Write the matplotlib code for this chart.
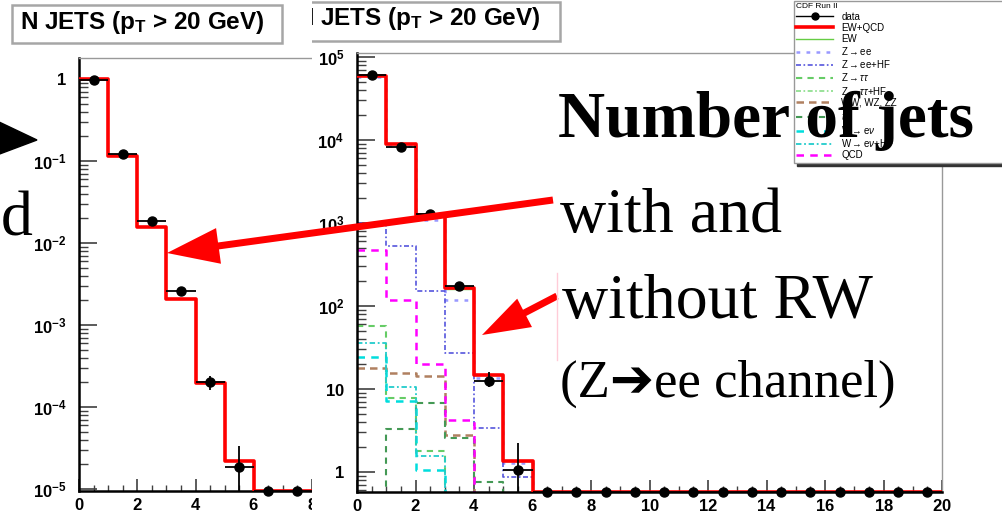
import numpy as np
import matplotlib
matplotlib.use("Agg")
import matplotlib.pyplot as plt
from matplotlib.lines import Line2D
from matplotlib.patches import Rectangle, Polygon, FancyArrow
from matplotlib.ticker import MultipleLocator, LogLocator, FuncFormatter, NullFormatter

plt.rcParams['font.family'] = ['Liberation Sans', 'DejaVu Sans']
plt.rcParams['mathtext.fontset'] = 'custom'
plt.rcParams['mathtext.rm'] = 'Liberation Sans'
plt.rcParams['mathtext.it'] = 'Liberation Sans:italic'
plt.rcParams['mathtext.bf'] = 'Liberation Sans:bold'

W, H = 1002, 518

# ---- left plot: N jets, normalised ----
left_edges = np.arange(0, 21)
left_mc = [1.0, 0.115, 0.0157, 0.00207, 0.000196, 2.2e-5]
left_data = [0.97, 0.122, 0.0185, 0.0026, 0.0002, 1.85e-5, 0, 0]
left_err_lo = [0, 0, 0, 0, 0.00004, 1.8e-5, 0, 0]
left_err_hi = [0, 0, 0, 0, 0.00004, 1.5e-5, 0, 0]
left_ylim = (9.45e-6, 1.8)

# ---- right plot: N jets, events ----
right_edges = np.arange(0, 21)
right_total = [5.9e4, 9.0e3, 1250, 165, 14.9, 1.37]
right_data = [6.0e4, 8.3e3, 1300, 175, 12.5, 1.05] + [0] * 14
right_err_lo = [0, 0, 0, 0, 1.9, 1.04] + [0] * 14
right_err_hi = [0, 0, 0, 0, 3.5, 1.2] + [0] * 14
right_ylim = (0.574, 1.12e5)

ew = [5.85e4, 8.9e3, 1230, 160, 14.8, 1.37]
z_ee = [5.75e4, 8.6e3, 1100, 118, 13.7, 1.3]
z_ee_hf = [1000, 530, 150, 27, 3.4, 0.88]
z_tautau = [57, 7.9, 1.8]
z_tautau_hf = [0.45, 0.12, 0.03]
diboson = [18, 15.8, 14.5, 2.8]
ttbar = [0.3, 3.3, 6.8, 2.6, 0.75]
w_enu = [24, 7.1, 1.05]
w_enu_hf = [36, 10.5, 1.56]
qcd = [470, 118, 20, 4.2]

legend_title = 'CDF Run II'
title = r'N JETS (p$_{\mathbf{T}}$ > 20 GeV)'


def px_axes(fig, l, t, r, b, **kw):
    return fig.add_axes([l / W, 1 - b / H, (r - l) / W, (b - t) / H], **kw)


def draw_steps(ax, edges, vals, floor, **kw):
    v = np.zeros(len(edges) - 1)
    v[:len(vals)] = vals
    v = np.where(v > 0, v, floor)
    return ax.step(edges, np.append(v, v[-1]), where='post', **kw)


def log_label(v, pos):
    e = int(round(np.log10(v)))
    if e == 0:
        return r'$\mathbf{1}$'
    if e == 1:
        return r'$\mathbf{10}$'
    return r'$\mathbf{10^{%d}}$' % e


def root_frame(ax, ylim):
    ax.set_yscale('log')
    ax.set_xlim(0, 20)
    ax.set_ylim(*ylim)
    for s in ['top', 'right']:
        ax.spines[s].set_color('0.6')
        ax.spines[s].set_linewidth(1.0)
    for s in ['left', 'bottom']:
        ax.spines[s].set_color('black')
        ax.spines[s].set_linewidth(1.8)
    ax.xaxis.set_major_locator(MultipleLocator(2))
    ax.xaxis.set_minor_locator(MultipleLocator(0.5))
    ax.xaxis.set_major_formatter(FuncFormatter(lambda v, p: r'$\mathbf{%d}$' % round(v)))
    ax.yaxis.set_major_locator(LogLocator(base=10, numticks=20))
    ax.yaxis.set_minor_locator(LogLocator(base=10, subs=np.arange(2, 10), numticks=20))
    ax.yaxis.set_major_formatter(FuncFormatter(log_label))
    ax.yaxis.set_minor_formatter(NullFormatter())
    ax.tick_params(which='both', direction='in', top=False, right=False,
                   color='0.25', labelsize=12)
    ax.tick_params(axis='y', which='major', length=13, width=1.2, pad=9)
    ax.tick_params(axis='y', which='minor', length=6.5, width=1.0)
    ax.tick_params(axis='x', which='major', length=9, width=1.2, pad=4)
    ax.tick_params(axis='x', which='minor', length=4.5, width=1.0)


def draw_data(ax, edges, vals, lo, hi, floor):
    n = len(vals)
    x = (edges[:n] + edges[1:n + 1]) / 2
    y = np.where(np.array(vals) > 0, vals, floor)
    ax.errorbar(x, y, xerr=0.5, yerr=[lo, hi], fmt='none', ecolor='black',
                elinewidth=1.3, capsize=0, zorder=4)
    ax.plot(x, y, 'o', color='black', ms=6.5, clip_on=False, zorder=5)


fig = plt.figure(figsize=(W / 100, H / 100), dpi=100)

# left plot (partly hidden under the right picture)
axl = px_axes(fig, 79, 58, 79 + 20 * 29.125, 491, zorder=1)
root_frame(axl, left_ylim)
draw_steps(axl, left_edges, left_mc, left_ylim[0], color='red', lw=2.6, zorder=3)
draw_data(axl, left_edges, left_data, left_err_lo, left_err_hi, left_ylim[0])

# white panel of the second picture
panel = px_axes(fig, 312, 0, 1002, 518, zorder=2)
panel.set_xlim(312, 1002)
panel.set_ylim(518, 0)
panel.set_xticks([])
panel.set_yticks([])
for s in panel.spines.values():
    s.set_visible(False)
panel.add_patch(Rectangle((288, 2), 272, 39, facecolor='white', edgecolor='0.65', lw=1.8))
panel.text(296, 25, title, fontsize=17.5, fontweight='bold', va='baseline', clip_on=True)

# right plot
axr = px_axes(fig, 357, 53, 942, 492, zorder=3)
root_frame(axr, right_ylim)
off = 1e-3
draw_steps(axr, right_edges, ew, off, color='#66cc44', lw=1.0, zorder=2, label='EW')
draw_steps(axr, right_edges, z_ee, off, color='#9999ff', lw=1.8, ls=(0, (1.5, 2.5)), zorder=2, label=r'Z$\rightarrow$ee')
draw_steps(axr, right_edges, z_ee_hf, off, color='#5555dd', lw=1.2, ls=(0, (3, 1.5, 1, 1.5)), zorder=2, label=r'Z$\rightarrow$ee+HF')
draw_steps(axr, right_edges, z_tautau, off, color='#66cc66', lw=1.5, ls=(0, (3, 2.5)), zorder=2, label=r'Z$\rightarrow\tau\tau$')
draw_steps(axr, right_edges, z_tautau_hf, off, color='#88dd88', lw=1.2, ls=(0, (3, 1.5, 1, 1.5)), zorder=2, label=r'Z$\rightarrow\tau\tau$+HF')
draw_steps(axr, right_edges, diboson, off, color='#b08060', lw=1.8, ls=(0, (3, 2)), zorder=2, label='WW, WZ, ZZ')
draw_steps(axr, right_edges, ttbar, off, color='#449955', lw=1.5, ls=(0, (3, 2.5)), zorder=2, label=r'$t\bar{t}$')
draw_steps(axr, right_edges, w_enu, off, color='#00dddd', lw=1.8, ls=(0, (3, 2.5)), zorder=2, label=r'W$\rightarrow$e$\nu$')
draw_steps(axr, right_edges, w_enu_hf, off, color='#22cccc', lw=1.3, ls=(0, (3, 1.5, 1, 1.5)), zorder=2, label=r'W$\rightarrow$e$\nu$+HF')
draw_steps(axr, right_edges, qcd, off, color='#ff00ff', lw=1.8, ls=(0, (3, 2.5)), zorder=2, label='QCD')
draw_steps(axr, right_edges, right_total, right_ylim[0], color='red', lw=2.6, zorder=3, label='EW+QCD')
draw_data(axr, right_edges, right_data, right_err_lo, right_err_hi, right_ylim[0])

handles, labels = axr.get_legend_handles_labels()
order = ['EW+QCD', 'EW', r'Z$\rightarrow$ee', r'Z$\rightarrow$ee+HF', r'Z$\rightarrow\tau\tau$',
         r'Z$\rightarrow\tau\tau$+HF', 'WW, WZ, ZZ', r'$t\bar{t}$', r'W$\rightarrow$e$\nu$',
         r'W$\rightarrow$e$\nu$+HF', 'QCD']
hmap = dict(zip(labels, handles))
data_handle = Line2D([], [], color='black', marker='o', ms=5, lw=1)
leg = fig.legend([data_handle] + [hmap[k] for k in order], ['data'] + order,
                 loc='upper left', bbox_to_anchor=(794 / W, 1 - 2 / H, 260 / W, 1 / H),
                 mode='expand', borderaxespad=0,
                 fontsize=7, title=legend_title, title_fontsize=6, alignment='left',
                 handlelength=3.8, handletextpad=0.8, labelspacing=0.12, borderpad=0.25,
                 fancybox=False, edgecolor='0.6', framealpha=1,
                 shadow={'facecolor': '0.2', 'edgecolor': '0.2', 'alpha': 1})
leg.set_zorder(6)

# slide overlay: text and arrows
ov = px_axes(fig, 0, 0, W, H, zorder=10)
ov.set_xlim(0, W)
ov.set_ylim(H, 0)
ov.set_axis_off()
ov.patch.set_alpha(0)

ov.add_patch(Rectangle((12, 5), 270, 38, facecolor='white', edgecolor='0.65', lw=1.8))
ov.text(20, 29, title, fontsize=17.5, fontweight='bold', va='baseline')

serif = ['Liberation Serif', 'DejaVu Serif']
ov.text(558, 137, 'Number of jets', family=serif, fontweight='bold', fontsize=47, va='baseline')
ov.text(560, 232, 'with and', family=serif, fontsize=46, va='baseline')
ov.text(562, 318, 'without RW', family=serif, fontsize=46, va='baseline')
ov.text(560, 397, '(Z\u2794ee channel)', family=['Liberation Serif', 'DejaVu Sans'], fontsize=38, va='baseline')
ov.text(1, 235, 'd', family=serif, fontsize=46, va='baseline')

ov.add_patch(Polygon([(-3, 121), (37, 140), (-3, 155)], closed=True, color='black'))
ov.plot([557, 557], [273, 360], color='#ffccd8', lw=1)

ov.add_patch(FancyArrow(553, 200, -386, 53, width=7, head_width=36, head_length=52,
                        length_includes_head=True, color='red', lw=0))
ov.add_patch(FancyArrow(557, 296, -75, 39, width=7, head_width=32, head_length=48,
                        length_includes_head=True, color='red', lw=0))

fig.savefig('out.png', dpi=100)
